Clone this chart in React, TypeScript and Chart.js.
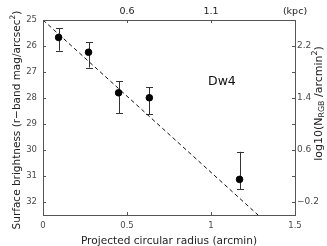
import React, { useEffect, useRef } from "react";
import { Chart, registerables } from "chart.js";

Chart.register(...registerables);

// ---- data ----
const radiusArcmin = [0.093, 0.271, 0.45, 0.633, 1.17];
const surfaceBrightness = [25.67, 26.24, 27.8, 27.99, 31.13];
const errorBright = [25.32, 25.86, 27.36, 27.59, 30.07];
const errorFaint = [26.18, 26.83, 28.59, 28.62, 31.51];
const fitRadius = [0, 1.28];
const fitBrightness = [25, 32.5];

const xTicks = [0, 0.5, 1, 1.5];
const xTickLabels = ["0", "0.5", "1", "1.5"];
const kpcTicks = [0, 0.5, 1, 1.5];
const kpcTickLabels = ["", "0.6", "1.1", "(kpc)"];
const sbTicks = [25, 26, 27, 28, 29, 30, 31, 32];
const sbTickLabels = ["25", "26", "27", "28", "29", "30", "31", "32"];
const logTicks = [-0.2, 0.2, 0.6, 1.0, 1.4, 1.8, 2.2];
const logTickLabels = ["\u22120.2", "", "0.6", "", "1.4", "", "2.2"];
const galaxyName = "Dw4";
const galaxyNameAt = [1.065, 27.37];

const FONT = "'DejaVu Sans', sans-serif";
const TICK_COLOR = "#4a4a4a";
const AXIS_COLOR = "#555555";

type Seg = { t: string; m?: "sub" | "sup" };

function drawRich(
  ctx: CanvasRenderingContext2D,
  segs: Seg[],
  x: number,
  y: number,
  angle: number,
  size: number,
  color: string
) {
  ctx.save();
  ctx.translate(x, y);
  ctx.rotate(angle);
  ctx.fillStyle = color;
  ctx.textBaseline = "middle";
  ctx.textAlign = "left";
  const small = size * 0.72;
  let total = 0;
  const widths = segs.map((s) => {
    ctx.font = `${s.m ? small : size}px ${FONT}`;
    const w = ctx.measureText(s.t).width;
    total += w;
    return w;
  });
  let cx = -total / 2;
  segs.forEach((s, i) => {
    ctx.font = `${s.m ? small : size}px ${FONT}`;
    const dy = s.m === "sub" ? size * 0.3 : s.m === "sup" ? -size * 0.38 : 0;
    ctx.fillText(s.t, cx, dy);
    cx += widths[i];
  });
  ctx.restore();
}

const decorPlugin = {
  id: "decor",
  beforeDatasetsDraw(chart: any) {
    const ctx = chart.ctx as CanvasRenderingContext2D;
    const xs = chart.scales.x;
    const ys = chart.scales.y;
    ctx.save();
    ctx.strokeStyle = "#333";
    ctx.lineWidth = 1;
    radiusArcmin.forEach((r, i) => {
      const px = Math.round(xs.getPixelForValue(r)) + 0.5;
      const top = ys.getPixelForValue(errorBright[i]);
      const bot = ys.getPixelForValue(errorFaint[i]);
      ctx.beginPath();
      ctx.moveTo(px, top);
      ctx.lineTo(px, bot);
      ctx.moveTo(px - 3.5, Math.round(top) + 0.5);
      ctx.lineTo(px + 3.5, Math.round(top) + 0.5);
      ctx.moveTo(px - 3.5, Math.round(bot) + 0.5);
      ctx.lineTo(px + 3.5, Math.round(bot) + 0.5);
      ctx.stroke();
    });
    ctx.restore();
  },
  afterDraw(chart: any) {
    const ctx = chart.ctx as CanvasRenderingContext2D;
    const a = chart.chartArea;
    const xs = chart.scales.x;
    const ys = chart.scales.y;
    const y2 = chart.scales.y2;
    const tl = 3;
    ctx.save();
    ctx.strokeStyle = AXIS_COLOR;
    ctx.lineWidth = 1;
    ctx.beginPath();
    xTicks.forEach((v) => {
      const p = Math.round(xs.getPixelForValue(v)) + 0.5;
      ctx.moveTo(p, a.bottom);
      ctx.lineTo(p, a.bottom - tl);
      ctx.moveTo(p, a.top);
      ctx.lineTo(p, a.top + tl);
    });
    sbTicks.forEach((v) => {
      const p = Math.round(ys.getPixelForValue(v)) + 0.5;
      ctx.moveTo(a.left, p);
      ctx.lineTo(a.left + tl, p);
    });
    logTicks.forEach((v) => {
      const p = Math.round(y2.getPixelForValue(v)) + 0.5;
      ctx.moveTo(a.right, p);
      ctx.lineTo(a.right - tl, p);
    });
    ctx.stroke();
    ctx.restore();

    // galaxy name
    ctx.save();
    ctx.font = `12.5px ${FONT}`;
    ctx.fillStyle = "#111";
    ctx.textAlign = "center";
    ctx.textBaseline = "middle";
    ctx.fillText(
      galaxyName,
      xs.getPixelForValue(galaxyNameAt[0]),
      ys.getPixelForValue(galaxyNameAt[1])
    );
    ctx.restore();

    // axis titles
    drawRich(
      ctx,
      [{ t: "Projected circular radius (arcmin)" }],
      (a.left + a.right) / 2,
      241.5,
      0,
      10.6,
      "#222"
    );
    drawRich(
      ctx,
      [
        { t: "Surface brightness (r\u2212band mag/arcsec" },
        { t: "2", m: "sup" },
        { t: ")" },
      ],
      17,
      120,
      -Math.PI / 2,
      10.5,
      "#222"
    );
    drawRich(
      ctx,
      [
        { t: "log10(N" },
        { t: "RGB", m: "sub" },
        { t: " /arcmin" },
        { t: "2", m: "sup" },
        { t: ")" },
      ],
      319,
      103.5,
      -Math.PI / 2,
      11,
      "#222"
    );
  },
};

function setTicks(values: number[]) {
  return (scale: any) => {
    scale.ticks = values.map((v) => ({ value: v }));
  };
}

export default function App() {
  const ref = useRef<HTMLCanvasElement | null>(null);
  useEffect(() => {
    document.body.style.margin = "0";
    document.body.style.overflow = "hidden";
    const canvas = ref.current!;
    const tickFont = { family: FONT, size: 8.5 };
    const chart = new Chart(canvas, {
      type: "scatter",
      data: {
        datasets: [
          {
            type: "scatter",
            data: radiusArcmin.map((r, i) => ({ x: r, y: surfaceBrightness[i] })),
            backgroundColor: "#000",
            borderColor: "#000",
            pointRadius: 3.3,
            pointHoverRadius: 3.3,
            xAxisID: "x",
            yAxisID: "y",
          },
          {
            type: "line",
            data: fitRadius.map((r, i) => ({ x: r, y: fitBrightness[i] })),
            borderColor: "#111",
            borderWidth: 1,
            borderDash: [4, 3],
            pointRadius: 0,
            fill: false,
            xAxisID: "x",
            yAxisID: "y",
          } as any,
        ],
      },
      options: {
        animation: false,
        responsive: false,
        devicePixelRatio: 1,
        layout: { padding: 0 },
        plugins: {
          legend: { display: false },
          tooltip: { enabled: false },
        },
        scales: {
          x: {
            type: "linear",
            position: "bottom",
            min: 0,
            max: 1.5,
            afterBuildTicks: setTicks(xTicks),
            afterFit: (s: any) => {
              s.height = 31;
            },
            grid: { display: false, drawTicks: false },
            border: { display: true, color: AXIS_COLOR, width: 1 },
            ticks: {
              font: tickFont,
              color: TICK_COLOR,
              padding: 6,
              maxRotation: 0,
              autoSkip: false,
              callback: (_v: any, i: number) => xTickLabels[i],
            },
          },
          x2: {
            type: "linear",
            position: "top",
            min: 0,
            max: 1.5,
            afterBuildTicks: setTicks(kpcTicks),
            afterFit: (s: any) => {
              s.height = 20;
            },
            grid: { display: false, drawTicks: false },
            border: { display: true, color: AXIS_COLOR, width: 1 },
            ticks: {
              font: { family: FONT, size: 9.5 },
              color: "#222",
              padding: 3,
              maxRotation: 0,
              autoSkip: false,
              callback: (_v: any, i: number) => kpcTickLabels[i],
            },
          },
          y: {
            type: "linear",
            position: "left",
            min: 25,
            max: 32.5,
            reverse: true,
            afterBuildTicks: setTicks(sbTicks),
            afterFit: (s: any) => {
              s.width = 43;
            },
            grid: { display: false, drawTicks: false },
            border: { display: true, color: AXIS_COLOR, width: 1 },
            ticks: {
              font: tickFont,
              color: TICK_COLOR,
              padding: 6,
              autoSkip: false,
              callback: (_v: any, i: number) => sbTickLabels[i],
            },
          },
          y2: {
            type: "linear",
            position: "right",
            min: -0.4,
            max: 2.6,
            afterBuildTicks: setTicks(logTicks),
            afterFit: (s: any) => {
              s.width = 32;
            },
            grid: { display: false, drawTicks: false },
            border: { display: true, color: AXIS_COLOR, width: 1 },
            ticks: {
              font: { family: FONT, size: 9 },
              color: TICK_COLOR,
              padding: 2,
              autoSkip: false,
              callback: (_v: any, i: number) => logTickLabels[i],
            },
          },
        },
      },
      plugins: [decorPlugin],
    });
    return () => chart.destroy();
  }, []);
  return (
    <canvas
      ref={ref}
      width={327}
      height={246}
      style={{ display: "block", width: 327, height: 246 }}
    />
  );
}
